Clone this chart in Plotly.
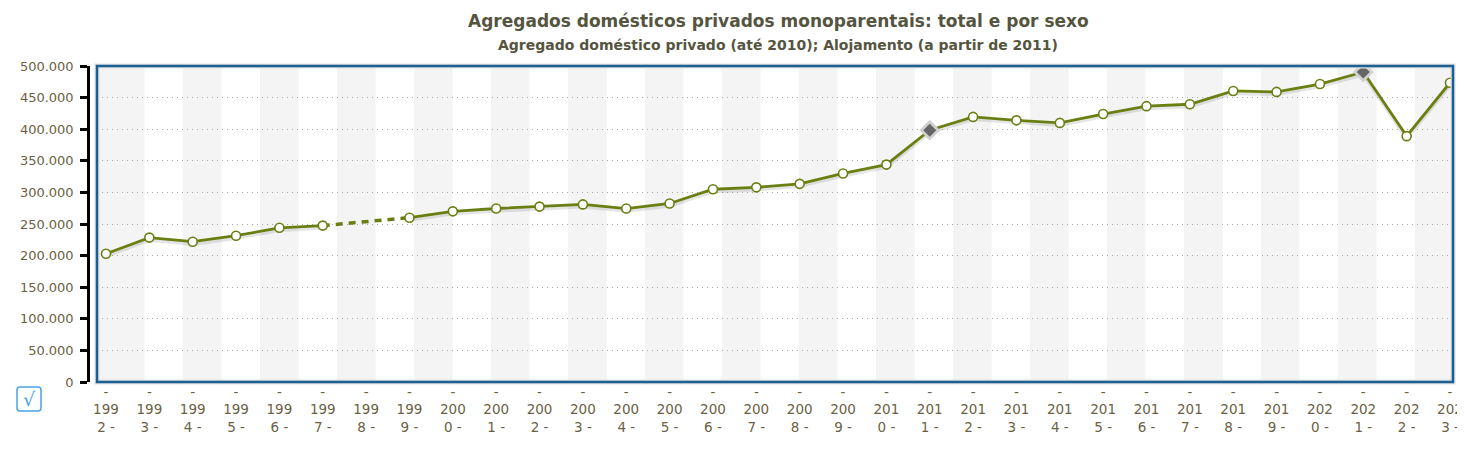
import plotly.graph_objects as go

years = list(range(1992, 2024))
values = [203000, 228500, 222000, 231500, 244000, 247500, None, 260000,
          270000, 274500, 277500, 281000, 274500, 282500, 305000, 308000,
          313500, 330000, 344000, 398500, 419500, 414000, 410000, 424000,
          436500, 439500, 460500, 459000, 471500, 490500, 389000, 473500]
highlight_years = [2011, 2021]
tick_labels = ["-<br>" + str(y)[:3] + "<br>" + str(y)[3] + " -" for y in years]
y_ticks = [0, 50000, 100000, 150000, 200000, 250000, 300000, 350000, 400000, 450000, 500000]
title_text = "Agregados domésticos privados monoparentais: total e por sexo"
subtitle_text = "Agregado doméstico privado (até 2010); Alojamento (a partir de 2011)"

LINE = "#6a7f12"
TXT = "#6b5f45"
OFF = 8  # page body margin
W, H = 1465 - OFF, 467 - OFF
# target page-pixel geometry
PL, PR, PT, PB = 97, 1453, 66, 382   # frame
AX = 88                              # y axis line
ml, mt = AX - OFF, PT - OFF
mr = 1465 - PR - 0
mb = 467 - PB
pw = W - ml - mr
ph = H - mt - mb
x0f = (PL - AX) / pw


def px(x):
    return (x - OFF - ml) / pw


def py(y):
    return 1 - (y - OFF - mt) / ph


fig = go.Figure()

# background bands (decorative, paper-relative)
shapes = [dict(type="rect", xref="paper", yref="y domain", x0=px(PL), x1=px(144.5),
               y0=0, y1=1, fillcolor="#f4f4f4", line_width=0, layer="below")]
xpos = 183.0
while xpos < PR:
    shapes.append(dict(type="rect", xref="paper", yref="y domain",
                       x0=px(xpos), x1=px(min(xpos + 38.5, PR)),
                       y0=0, y1=1, fillcolor="#f4f4f4", line_width=0, layer="below"))
    xpos += 77.0

# shadow line
fig.add_trace(go.Scatter(x=years, y=[v - 3500 if v is not None else None for v in values],
                         mode="lines", line=dict(color="rgba(0,0,0,0.10)", width=4),
                         hoverinfo="skip", showlegend=False))

# dotted gap segment (1997 -> 1999)
gi = values.index(None)
fig.add_trace(go.Scatter(x=[years[gi - 1], years[gi + 1]], y=[values[gi - 1], values[gi + 1]],
                         mode="lines", line=dict(color=LINE, width=3.5, dash="7px,6px"),
                         hoverinfo="skip", showlegend=False))

fig.add_trace(go.Scatter(x=years, y=values, mode="lines+markers",
                         line=dict(color=LINE, width=2.8),
                         marker=dict(size=9, color="white", line=dict(color=LINE, width=1.6)),
                         connectgaps=False, showlegend=False))

hx = highlight_years
hy = [values[years.index(y)] for y in hx]
fig.add_trace(go.Scatter(x=hx, y=hy, mode="markers",
                         marker=dict(symbol="diamond", size=16, color="#d0d0d0"),
                         hoverinfo="skip", showlegend=False))
fig.add_trace(go.Scatter(x=hx, y=hy, mode="markers",
                         marker=dict(symbol="diamond", size=10, color="#666666"),
                         showlegend=False))

px_per_year = (1450 - 106) / (2023 - 1992)
xr0 = 1992 - (106 - PL) / px_per_year
xr1 = 2023 + (PR - 1450) / px_per_year

# frame
shapes.append(dict(type="rect", xref="x domain", yref="y domain", x0=0, x1=1, y0=0, y1=1,
                   line=dict(color="#e0e0e0", width=5), fillcolor="rgba(0,0,0,0)"))
shapes.append(dict(type="rect", xref="x domain", yref="y domain", x0=0, x1=1, y0=0, y1=1,
                   line=dict(color="#1c5f94", width=2.5), fillcolor="rgba(0,0,0,0)"))
# checkbox
cx0, cx1, cy0, cy1, r = 17, 41, 387, 411, 3
path = (f"M {px(cx0+r)},{py(cy0)} L {px(cx1-r)},{py(cy0)} Q {px(cx1)},{py(cy0)} {px(cx1)},{py(cy0+r)} "
        f"L {px(cx1)},{py(cy1-r)} Q {px(cx1)},{py(cy1)} {px(cx1-r)},{py(cy1)} "
        f"L {px(cx0+r)},{py(cy1)} Q {px(cx0)},{py(cy1)} {px(cx0)},{py(cy1-r)} "
        f"L {px(cx0)},{py(cy0+r)} Q {px(cx0)},{py(cy0)} {px(cx0+r)},{py(cy0)} Z")
shapes.append(dict(type="path", xref="paper", yref="paper", path=path,
                   line=dict(color="#4aa3e6", width=1.5)))

fig.update_layout(
    width=W, height=H,
    margin=dict(l=ml, r=mr, t=mt, b=mb, autoexpand=False),
    plot_bgcolor="white", paper_bgcolor="white",
    separators=",.",
    font=dict(family="DejaVu Sans", color=TXT, size=13),
    xaxis=dict(domain=[x0f, 1], range=[xr0, xr1], tickmode="array", tickvals=years,
               ticktext=tick_labels, showgrid=False, zeroline=False, showline=False,
               ticks="", tickfont=dict(size=13.5, color=TXT), tickangle=0, automargin=False,
               ticklabelstandoff=0),
    yaxis=dict(anchor="free", position=0, range=[0, 500000], tickmode="array",
               tickvals=y_ticks, tickformat=",d", showline=True, linecolor="black",
               linewidth=2.5, ticks="outside", ticklen=7, tickwidth=2.5, tickcolor="black",
               showgrid=True, gridcolor="#a8a8a8", griddash="1px,4px", gridwidth=1,
               zeroline=False, tickfont=dict(size=13, color=TXT), ticklabelstandoff=4,
               automargin=False),
    shapes=shapes,
    annotations=[
        dict(text="<b>" + title_text + "</b>", xref="paper", yref="paper", x=px(778), y=py(21),
             xanchor="center", yanchor="middle", showarrow=False,
             font=dict(size=17, color="#55553f", family="DejaVu Sans")),
        dict(text="<b>" + subtitle_text + "</b>", xref="paper", yref="paper", x=px(778), y=py(45),
             xanchor="center", yanchor="middle", showarrow=False,
             font=dict(size=14, color="#55553f", family="DejaVu Sans")),
        dict(text="√", xref="paper", yref="paper", x=px(29.5), y=py(399),
             xanchor="center", yanchor="middle", showarrow=False,
             font=dict(size=19, color="#4aa3e6", family="DejaVu Sans")),
    ],
)

fig.write_html("out.html")
